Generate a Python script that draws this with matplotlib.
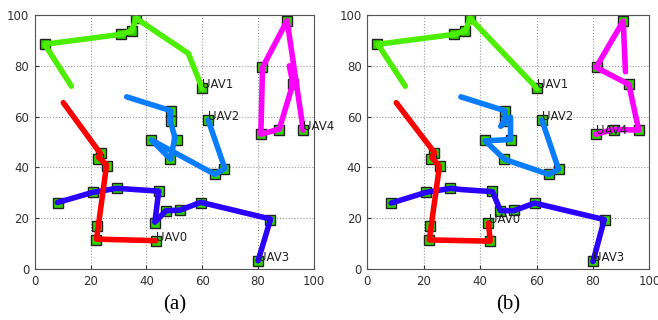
import matplotlib
matplotlib.use('Agg')
import matplotlib.pyplot as plt

# task locations (green squares), same in both panels
task_x = [3.5, 30.8, 34.7, 36.3, 60.0,
          48.7, 48.7, 50.8, 41.8, 48.6, 64.4, 67.9, 62.0,
          90.5, 81.4, 92.6, 96.2, 87.5, 81.0,
          23.6, 22.7, 25.7, 22.2, 22.0, 43.5, 42.9,
          8.3, 20.7, 29.5, 44.4, 47.1, 52.0, 59.4, 84.3, 80.0]
task_y = [88.5, 92.4, 93.8, 98.7, 71.1,
          62.4, 58.4, 51.0, 50.7, 43.3, 37.4, 39.5, 58.7,
          97.7, 79.4, 72.9, 54.7, 54.8, 53.1,
          45.8, 43.5, 40.5, 17.1, 11.6, 11.0, 18.3,
          26.1, 30.2, 31.8, 30.6, 22.8, 23.1, 26.1, 19.5, 3.1]

uav_names = ['UAV1', 'UAV2', 'UAV4', 'UAV3', 'UAV0']
uav_colors = ['#4def00', '#0a7cff', '#ff00ff', '#2a00ff', '#ff0000']

# panel (a) trajectories
a_x = [[13.1, 3.5, 30.8, 34.7, 36.3, 55.0, 60.0],
       [32.9, 48.6, 48.6, 50.2, 48.6, 41.8, 64.5, 68.1, 62.1],
       [91.2, 92.5, 87.6, 81.0, 81.6, 90.4, 96.2],
       [8.1, 20.7, 29.3, 44.4, 43.0, 47.0, 52.0, 59.5, 84.5, 80.0],
       [10.2, 23.5, 22.8, 25.7, 22.1, 43.4]]
a_y = [[72.0, 88.5, 92.4, 93.8, 98.7, 84.9, 71.1],
       [67.8, 62.4, 58.0, 51.8, 43.3, 50.8, 37.3, 39.6, 58.7],
       [80.0, 73.0, 55.1, 53.1, 79.4, 97.8, 54.7],
       [26.2, 30.2, 31.8, 30.7, 18.5, 23.0, 23.2, 26.3, 19.7, 3.3],
       [65.5, 45.5, 44.0, 41.0, 11.8, 11.2]]

# panel (b) trajectories
b_x = [[13.5, 3.8, 30.9, 34.8, 36.5, 60.2],
       [33.2, 48.9, 48.8, 47.3, 50.8, 50.8, 41.8, 48.7, 64.3, 67.8, 61.9],
       [91.5, 90.7, 81.1, 92.7, 96.2, 87.4, 81.1],
       [8.5, 20.8, 29.7, 33.5, 44.4, 47.2, 52.0, 59.3, 84.0, 80.0],
       [10.3, 23.9, 22.8, 25.6, 22.0, 43.6, 43.0]]
b_y = [[72.0, 88.5, 92.4, 93.8, 98.7, 71.1],
       [67.8, 62.3, 58.5, 56.2, 59.8, 51.0, 50.5, 43.2, 37.3, 39.3, 58.7],
       [77.7, 97.6, 79.4, 72.7, 54.7, 55.0, 53.1],
       [26.0, 30.2, 31.8, 31.3, 30.5, 23.0, 23.0, 26.0, 19.5, 3.0],
       [65.5, 45.8, 44.0, 40.5, 11.5, 11.0, 18.2]]

panel_labels = ['(a)', '(b)']

fig = plt.figure(figsize=(6.58, 3.2), dpi=100)
ax_a = fig.add_axes([0.053, 0.159, 0.424, 0.794])
ax_b = fig.add_axes([0.558, 0.159, 0.429, 0.794])

for ax, xs, ys, plab in [(ax_a, a_x, a_y, panel_labels[0]), (ax_b, b_x, b_y, panel_labels[1])]:
    ax.plot(task_x, task_y, 's', color='#33d100', markeredgecolor='#222222',
            markeredgewidth=1.0, markersize=6.5, zorder=2, linestyle='none')
    for i in range(len(uav_names)):
        ax.plot(xs[i], ys[i], color=uav_colors[i], linewidth=4,
                solid_capstyle='round', solid_joinstyle='round', zorder=3 + i)
        ax.text(xs[i][-1], ys[i][-1], uav_names[i], fontsize=8.5, color='#222222', zorder=10)
    ax.set_xlim(0, 100)
    ax.set_ylim(0, 100)
    ax.set_xticks(range(0, 101, 20))
    ax.set_yticks(range(0, 101, 20))
    ax.grid(True, linestyle=':', color='#999999', linewidth=0.8)
    ax.set_axisbelow(True)
    ax.tick_params(direction='in', labelsize=8.5, length=3, colors='#333333', pad=4)
    for s in ax.spines.values():
        s.set_color('#555555')
    ax.text(0.5, -0.14, plab, transform=ax.transAxes, ha='center', va='center',
            fontsize=15, family='Liberation Serif')

fig.savefig('out.png', dpi=100)
